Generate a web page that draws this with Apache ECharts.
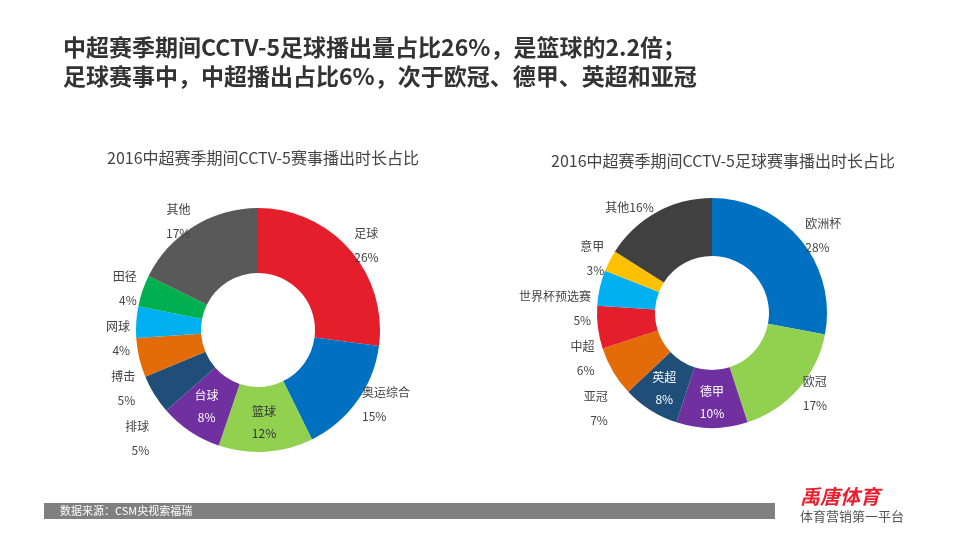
<!DOCTYPE html>
<html><head><meta charset="utf-8">
<script src="https://cdn.jsdelivr.net/npm/echarts@6/dist/echarts.min.js"></script>
<style>html,body{margin:0;padding:0;background:#fff}#c{width:960px;height:540px}</style>
</head><body><div id="c"></div>
<script>
const leftNames = ['足球','奥运综合','篮球','台球','排球','搏击','网球','田径','其他'];
const leftValues = [26,15,12,8,5,5,4,4,17];
const leftColors = ['#e41e2b','#0070c0','#92d050','#7030a0','#1f4e79','#e36c09','#00b0f0','#00b050','#595959'];
const rightNames = ['欧洲杯','欧冠','德甲','英超','亚冠','中超','世界杯预选赛','意甲','其他'];
const rightValues = [28,17,10,8,7,6,5,3,16];
const rightColors = ['#0070c0','#92d050','#7030a0','#1f4e79','#e36c09','#e41e2b','#00b0f0','#ffc000','#404040'];

const font = '"Noto Sans CJK SC", sans-serif';
function mk(names, values, colors, inside, single){
  return names.map((n,i)=>{
    const d = {name:n, value:values[i], itemStyle:{color:colors[i]}};
    if (inside[n]) d.label = {position:'inside', color: inside[n], lineHeight:22};
    if (single && single===n) d.label = {formatter:'{b}{c}%'};
    return d;
  });
}
const chart = echarts.init(document.getElementById('c'));
chart.setOption({
  textStyle:{fontFamily:font},
  title:[
    {text:'中超赛季期间CCTV-5足球播出量占比26%，是篮球的2.2倍；\n足球赛事中，中超播出占比6%，次于欧冠、德甲、英超和亚冠',left:58,top:28,
     textStyle:{fontSize:23,fontWeight:'bold',color:'#333',lineHeight:29,fontFamily:font}},
    {text:'2016中超赛季期间CCTV-5赛事播出时长占比',left:258,top:145,textAlign:'center',
     textStyle:{fontSize:16,fontWeight:'normal',color:'#444',fontFamily:font}},
    {text:'2016中超赛季期间CCTV-5足球赛事播出时长占比',left:718,top:148,textAlign:'center',
     textStyle:{fontSize:16,fontWeight:'normal',color:'#444',fontFamily:font}}
  ],
  series:[
    {type:'pie',center:[258,330],radius:[57,122],startAngle:90,clockwise:true,animation:false,
     label:{formatter:'{b}\n{c}%',fontSize:12,color:'#444',lineHeight:24,distanceToLabelLine:0},
     labelLine:{show:false,length:6,length2:0},
     data:mk(leftNames,leftValues,leftColors,{'篮球':'#333','台球':'#fff'})},
    {type:'pie',center:[712,313],radius:[57,115],startAngle:90,clockwise:true,animation:false,
     label:{formatter:'{b}\n{c}%',fontSize:12,color:'#444',lineHeight:24,distanceToLabelLine:0},
     labelLine:{show:false,length:6,length2:0},
     data:mk(rightNames,rightValues,rightColors,{'英超':'#fff','德甲':'#fff'},'其他')}
  ],
  graphic:[
    {type:'rect',shape:{x:44,y:503,width:731,height:16},style:{fill:'#808080'}},
    {type:'text',left:60,top:505,style:{text:'数据来源：CSM央视索福瑞',fill:'#fff',fontSize:11,fontFamily:font}},
    {type:'text',left:800,top:486,style:{text:'禹唐体育',fill:'#e8202f',fontSize:20,fontWeight:'bold',fontStyle:'italic',fontFamily:font}},
    {type:'text',left:800,top:510,style:{text:'体育营销第一平台',fill:'#555',fontSize:13,fontFamily:font}}
  ]
});
</script></body></html>
